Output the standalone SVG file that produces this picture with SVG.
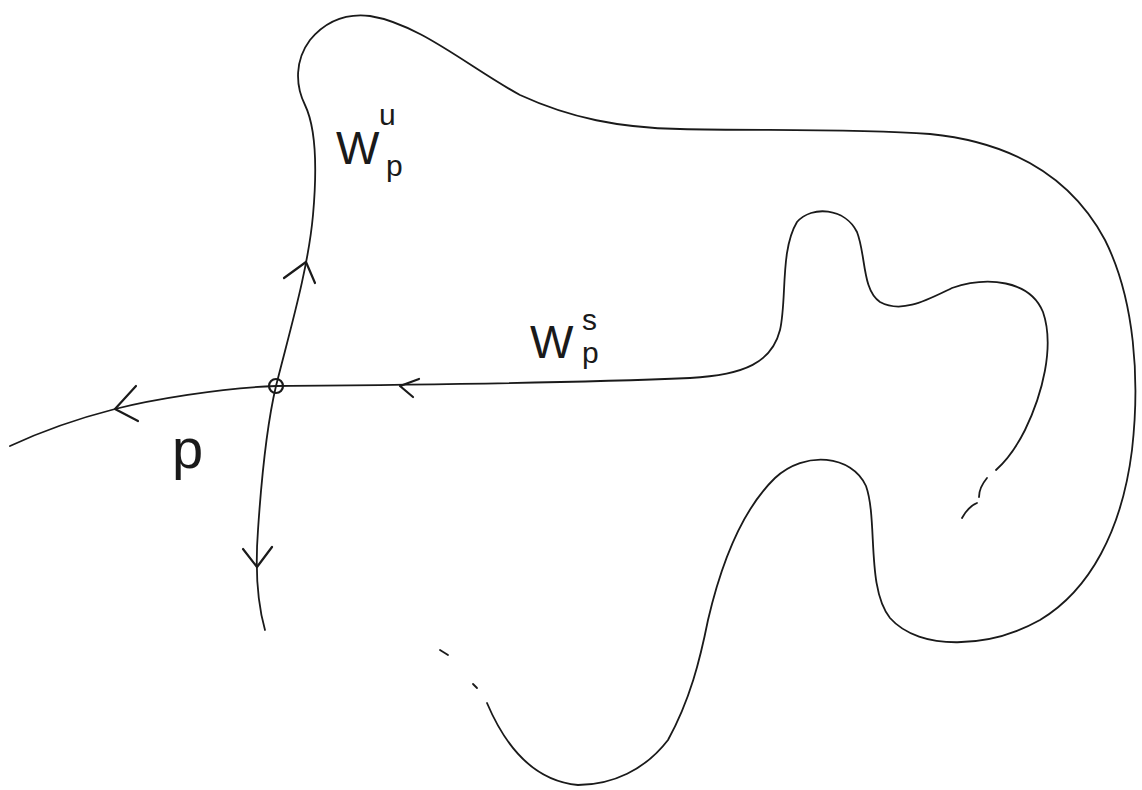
<svg xmlns="http://www.w3.org/2000/svg" width="1142" height="790" viewBox="0 0 1142 790">
  <style>
    .curve { fill: none; stroke: #1a1a1a; stroke-width: 1.8; stroke-linecap: round; stroke-linejoin: round; }
    .head { fill: none; stroke: #1a1a1a; stroke-width: 2.2; stroke-linecap: round; stroke-linejoin: round; }
    .lbl { font-family: "Liberation Sans", Arial, sans-serif; fill: #1a1a1a; }
    .big { font-size: 46px; }
    .sup { font-size: 30px; }
  </style>
  <rect width="1142" height="790" fill="#ffffff"/>

  <g id="connectors">
    <!-- unstable manifold W^u_p: from below p, up through p, round the top and the right, back down to the bottom -->
    <path id="wu" class="curve" d="M 265 630 C 258 605, 255 570, 258 530 C 262 470, 268 420, 276 386 C 290 330, 308 270, 313 215 C 317 170, 317 130, 305 105 C 295 85, 295 60, 310 40 C 325 22, 345 13, 370 16 C 420 24, 470 68, 520 95 C 570 118, 620 128, 680 129 C 760 131, 850 128, 930 134 C 1010 142, 1070 175, 1105 240 C 1135 300, 1140 380, 1132 450 C 1122 530, 1090 590, 1040 620 C 990 648, 920 652, 890 618 C 866 588, 878 520, 866 486 C 852 455, 805 450, 775 478 C 742 510, 722 560, 708 620 C 700 660, 690 700, 668 740 C 645 770, 612 785, 578 785 C 545 782, 512 762, 487 703"/>
    <!-- stable manifold W^s_p: in from the left through p, along the horizontal and into the folded lobes -->
    <path id="ws" class="curve" d="M 10 446 C 40 432, 80 418, 115 409 C 150 400, 220 388, 276 386 C 400 385, 550 384, 690 378 C 745 375, 772 362, 780 330 C 787 300, 780 250, 797 222 C 812 205, 845 208, 857 232 C 866 255, 862 290, 880 302 C 902 314, 927 300, 952 288 C 987 276, 1030 280, 1043 312 C 1055 347, 1042 395, 1025 430 C 1015 450, 1005 462, 996 470"/>
    <!-- broken continuation of W^s_p -->
    <path class="curve" d="M 987 478 C 982 484, 979 490, 979 497"/>
    <path class="curve" d="M 977 503 C 972 505, 967 509, 962 518"/>
    <!-- broken continuation of W^u_p toward p -->
    <path class="curve" d="M 440 650 L 448 655"/>
    <path class="curve" d="M 473 684 L 477 688"/>

    <!-- direction chevrons -->
    <path class="head" d="M 284 278 L 306 262 L 315 283"/>
    <path class="head" d="M 243 549 L 257 567 L 272 547"/>
    <path class="head" d="M 136 386 L 115 409 L 138 421"/>
    <path class="head" d="M 419 379 L 400 386 L 413 397"/>
  </g>

  <g id="node-p">
    <circle cx="276" cy="386" r="7" fill="none" stroke="#1a1a1a" stroke-width="2.2"/>
    <text class="lbl" x="172" y="468" font-size="56">p</text>
  </g>

  <g id="label-wu">
    <text class="lbl big" x="336" y="164">W</text>
    <text class="lbl sup" x="379" y="125">u</text>
    <text class="lbl sup" x="386" y="176">p</text>
  </g>

  <g id="label-ws">
    <text class="lbl big" x="530" y="358">W</text>
    <text class="lbl sup" x="582" y="330">s</text>
    <text class="lbl sup" x="582" y="363">p</text>
  </g>
</svg>
